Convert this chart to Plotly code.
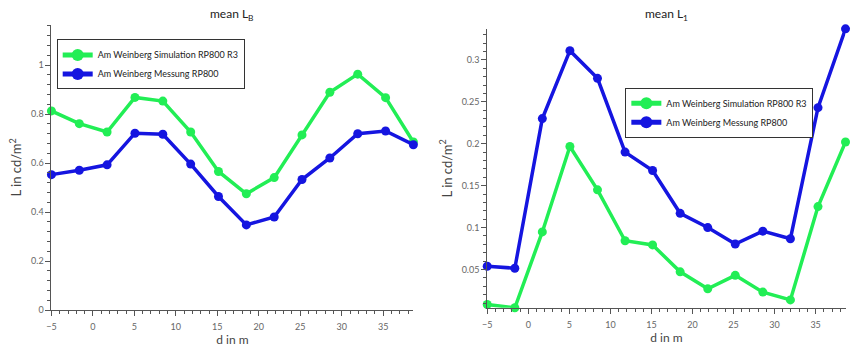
import plotly.graph_objects as go

# distance along the road (m)
d = [-5.0, -1.64, 1.71, 5.07, 8.43, 11.79, 15.14, 18.5, 21.86, 25.21, 28.57, 31.93, 35.29, 38.64]

# mean L_B (cd/m^2)
lb_sim = [0.813, 0.761, 0.727, 0.868, 0.853, 0.727, 0.566, 0.475, 0.541, 0.715, 0.889, 0.963, 0.867, 0.686]
lb_mess = [0.553, 0.571, 0.593, 0.722, 0.718, 0.596, 0.464, 0.348, 0.380, 0.533, 0.621, 0.720, 0.731, 0.675]

# mean L_1 (cd/m^2)
l1_sim = [0.0082, 0.0043, 0.0948, 0.1967, 0.145, 0.0843, 0.0793, 0.0472, 0.0269, 0.0430, 0.0230, 0.0137, 0.125, 0.202]
l1_mess = [0.0539, 0.0515, 0.230, 0.311, 0.278, 0.190, 0.168, 0.117, 0.100, 0.0804, 0.0957, 0.0867, 0.243, 0.337]

name_sim = "Am Weinberg Simulation RP800 R3"
name_mess = "Am Weinberg Messung RP800"

GREEN = "#22ee55"
BLUE = "#1515e0"
FONT = "Lato"
AXIS_COL = "#555555"

fig = go.Figure()


def add_series(x, y, name, color, xa, ya, legend):
    fig.add_trace(go.Scatter(
        x=x, y=y, name=name, mode="lines+markers",
        line=dict(color=color, width=3.5),
        marker=dict(color=color, size=9),
        xaxis=xa, yaxis=ya, legend=legend, cliponaxis=False,
    ))


add_series(d, lb_sim, name_sim, GREEN, "x", "y", "legend")
add_series(d, lb_mess, name_mess, BLUE, "x", "y", "legend")
add_series(d, l1_sim, name_sim, GREEN, "x2", "y2", "legend2")
add_series(d, l1_mess, name_mess, BLUE, "x2", "y2", "legend2")

tickfont = dict(family=FONT, size=9, color="#666666")


def xaxis(domain, anchor):
    return dict(
        domain=domain, anchor=anchor, range=[-5, 38.64],
        tickmode="linear", tick0=0, dtick=5,
        ticks="outside", ticklen=5, tickcolor=AXIS_COL,
        minor=dict(dtick=1, tick0=0, ticks="outside", ticklen=3, tickcolor=AXIS_COL),
        showline=True, linecolor=AXIS_COL, linewidth=1,
        showgrid=False, zeroline=False, tickfont=tickfont,
        ticklabelstandoff=3,
        title=dict(text="d in m", font=dict(family=FONT, size=12, color="#444444"), standoff=5),
    )


def yaxis(domain, anchor, rng, dtick, minor):
    return dict(
        domain=domain, anchor=anchor, range=rng,
        tickmode="linear", tick0=0, dtick=dtick,
        ticks="outside", ticklen=5, tickcolor=AXIS_COL,
        minor=dict(dtick=minor, tick0=0, ticks="outside", ticklen=3, tickcolor=AXIS_COL),
        showline=True, linecolor=AXIS_COL, linewidth=1,
        showgrid=False, zeroline=False, tickfont=tickfont,
        title=dict(text="L in cd/m<sup>2</sup>", font=dict(family=FONT, size=13, color="#444444"), standoff=6),
    )


legend_style = dict(
    bgcolor="white", bordercolor="#333333", borderwidth=1,
    font=dict(family=FONT, size=9, color="#222222"),
    itemsizing="constant", itemwidth=30, tracegroupgap=0,
    xanchor="left", yanchor="top", xref="paper", yref="paper",
)

fig.update_layout(
    width=854, height=347,
    margin=dict(l=0, r=0, t=0, b=0),
    paper_bgcolor="white", plot_bgcolor="white",
    font=dict(family=FONT),
    xaxis=xaxis([0.0547, 0.481], "y"),
    yaxis=yaxis([0.093, 0.928], "x", [0, 1.165], 0.2, 0.04),
    xaxis2=xaxis([0.568, 0.990], "y2"),
    yaxis2=yaxis([0.100, 0.9156], "x2", [0.0043, 0.337], 0.05, 0.01),
    legend=dict(x=52 / 854, y=1 - 40 / 347, **legend_style),
    legend2=dict(x=624 / 854, y=1 - 89 / 347, **legend_style),
    annotations=[
        dict(text="mean L<sub>B</sub>", x=(0.0547 + 0.481) / 2, y=1 - 4 / 347,
             xref="paper", yref="paper", xanchor="center", yanchor="top",
             showarrow=False, font=dict(family=FONT, size=12, color="#222222")),
        dict(text="mean L<sub>1</sub>", x=(0.568 + 0.990) / 2, y=1 - 4 / 347,
             xref="paper", yref="paper", xanchor="center", yanchor="top",
             showarrow=False, font=dict(family=FONT, size=12, color="#222222")),
    ],
)

fig.write_html("out.html")
